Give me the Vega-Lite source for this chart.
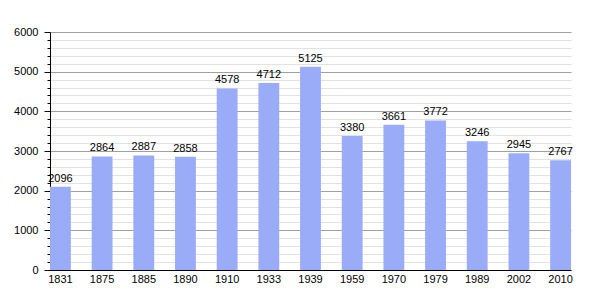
{
  "$schema": "https://vega.github.io/schema/vega-lite/v6.json",
  "width": 521,
  "height": 238,
  "autosize": {"type": "none"},
  "padding": {"left": 50, "top": 32, "right": 29, "bottom": 30},
  "background": "white",
  "config": {
    "view": {"stroke": null},
    "font": "Liberation Sans",
    "axis": {"labelFont": "Liberation Sans", "labelFontSize": 11, "labelColor": "#000"}
  },
  "data": {
    "values": [
      {"year": "1831", "pop": 2096},
      {"year": "1875", "pop": 2864},
      {"year": "1885", "pop": 2887},
      {"year": "1890", "pop": 2858},
      {"year": "1910", "pop": 4578},
      {"year": "1933", "pop": 4712},
      {"year": "1939", "pop": 5125},
      {"year": "1959", "pop": 3380},
      {"year": "1970", "pop": 3661},
      {"year": "1979", "pop": 3772},
      {"year": "1989", "pop": 3246},
      {"year": "2002", "pop": 2945},
      {"year": "2010", "pop": 2767}
    ]
  },
  "encoding": {
    "x": {
      "field": "year",
      "type": "ordinal",
      "sort": null,
      "scale": {"paddingInner": 0.5, "paddingOuter": 0, "align": 0},
      "axis": {
        "title": null,
        "labelAngle": 0,
        "ticks": false,
        "domainColor": "#000",
        "domainWidth": 1,
        "labelPadding": 3,
        "grid": false
      }
    },
    "y": {
      "field": "pop",
      "type": "quantitative",
      "scale": {"domain": [0, 6000], "nice": false},
      "axis": {
        "title": null,
        "values": [0,200,400,600,800,1000,1200,1400,1600,1800,2000,2200,2400,2600,2800,3000,3200,3400,3600,3800,4000,4200,4400,4600,4800,5000,5200,5400,5600,5800,6000],
        "labelExpr": "datum.value % 1000 === 0 ? datum.label : ''",
        "format": "d",
        "grid": true,
        "gridColor": {"condition": {"test": "datum.value % 1000 === 0", "value": "#a0a0a0"}, "value": "#e2e2e2"},
        "gridWidth": 1,
        "tickColor": "#000",
        "tickSize": {"condition": {"test": "datum.value % 1000 === 0", "value": 6}, "value": 3},
        "domainColor": "#000",
        "labelPadding": 6
      }
    }
  },
  "layer": [
    {"mark": {"type": "bar", "color": "#9aacf8"}},
    {
      "mark": {"type": "text", "baseline": "bottom", "dy": -3, "fontSize": 11, "color": "#000"},
      "encoding": {"text": {"field": "pop", "type": "quantitative", "format": "d"}}
    }
  ]
}
